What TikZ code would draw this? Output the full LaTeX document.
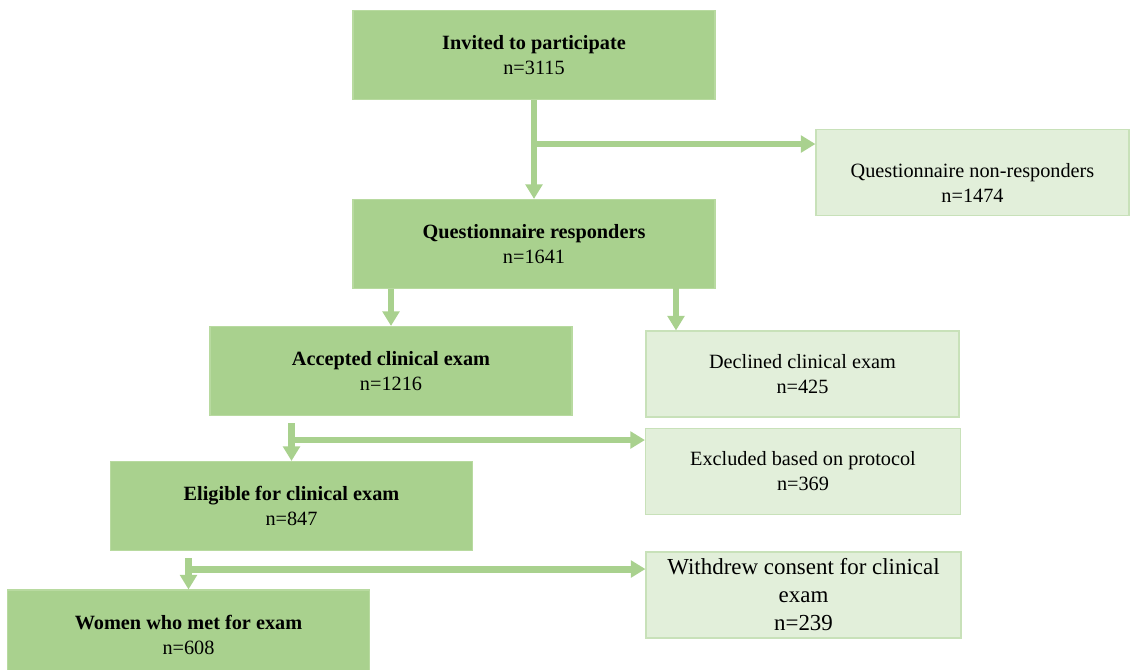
\documentclass[tikz,border=0pt]{standalone}
\usepackage{fontspec}
\setmainfont{Liberation Serif}
\usepackage{tikz}
\usetikzlibrary{positioning,calc}
\usetikzlibrary{arrows.meta}
\definecolor{FlowGreen}{RGB}{169,209,142}
\definecolor{FlowEdge}{RGB}{184,218,160}
\definecolor{PaleGreen}{RGB}{226,239,218}
\definecolor{PaleEdge}{RGB}{200,225,185}
\tikzset{
  mainbox/.style={rectangle,draw=FlowEdge,fill=FlowGreen,line width=0.8pt,inner sep=0pt,
    minimum width=362*0.75pt,minimum height=89*0.75pt,align=center,
    font=\fontsize{15.2}{18.75}\selectfont},
  sidebox/.style={rectangle,draw=PaleEdge,fill=PaleGreen,line width=0.8pt,inner sep=0pt,
    minimum width=315*0.75pt,minimum height=86*0.75pt,align=center,
    font=\fontsize{15.2}{18.75}\selectfont},
  flow/.style={draw=FlowGreen,line width=5.2pt,-{Triangle[width=12.5pt,length=11pt]}},
}

\begin{document}
\begin{tikzpicture}[x=0.75pt,y=-0.75pt]
\useasboundingbox (0,0) rectangle (1133,670);
\clip (0,0) rectangle (1133,670);
\node[mainbox] (invited) at (534,55) {\textbf{Invited to participate}\\n=3115};
\node[sidebox,minimum width=313*0.75pt] (nonresp) at (972.5,172.5) {};
\node[align=center,font=\fontsize{15.2}{18.75}\selectfont] (nonresptext) at ([yshift=-7.5pt]nonresp.center) {Questionnaire non-responders\\n=1474};
\node[mainbox] (resp) at (534,244) {\textbf{Questionnaire responders}\\n=1641};
\node[mainbox] (acc) at (391,371) {\textbf{Accepted clinical exam}\\n=1216};
\node[sidebox,minimum width=313*0.75pt] (decl) at (802.5,374) {Declined clinical exam\\n=425};
\node[mainbox] (elig) at (291.5,506) {\textbf{Eligible for clinical exam}\\n=847};
\node[sidebox] (excl) at (803,471.5) {Excluded based on protocol\\n=369};
\node[mainbox,minimum height=90*0.75pt] (women) at (188.5,635) {\textbf{Women who met for exam}\\n=608};
\node[sidebox,font=\fontsize{17.2}{21}\selectfont] (withdrew) at (803.5,595) {Withdrew consent for clinical\\exam\\n=239};
% invited -> responders
\draw[flow] (invited.south) -- (resp.north);
\path (invited.south) ++(0,44) coordinate (b1);
\draw[flow] (b1) -- (b1 -| nonresp.west);
% responders -> accepted / declined
\draw[flow] (resp.south -| acc.north) -- (acc.north);
\coordinate (d1) at (676,288);
\draw[flow] (d1) -- (d1 |- decl.north);
% accepted -> eligible
\path (acc.south -| elig.north) ++(0,7) coordinate (e0);
\draw[flow] (e0) -- (elig.north);
\path (e0) ++(0,17) coordinate (e1);
\draw[flow] (e1) -- (e1 -| excl.west);
% eligible -> women
\path (elig.south -| women.north) ++(0,7) coordinate (w0);
\draw[flow] (w0) -- (women.north);
\path (w0) ++(0,11) coordinate (w1);
\draw[flow] (w1) -- (w1 -| withdrew.west);
\end{tikzpicture}
\end{document}
